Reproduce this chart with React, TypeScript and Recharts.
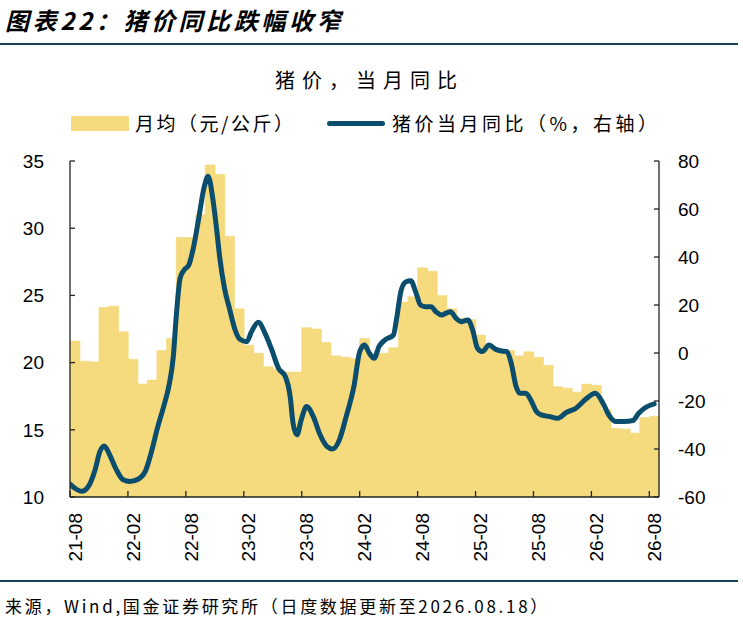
import React from 'react';
import { ComposedChart, Bar, Line, XAxis, YAxis } from 'recharts';

const MONTHS = [
  '21-08', '21-09', '21-10', '21-11', '21-12',
  '22-01', '22-02', '22-03', '22-04', '22-05', '22-06', '22-07', '22-08', '22-09', '22-10', '22-11', '22-12',
  '23-01', '23-02', '23-03', '23-04', '23-05', '23-06', '23-07', '23-08', '23-09', '23-10', '23-11', '23-12',
  '24-01', '24-02', '24-03', '24-04', '24-05', '24-06', '24-07', '24-08', '24-09', '24-10', '24-11', '24-12',
  '25-01', '25-02', '25-03', '25-04', '25-05', '25-06', '25-07', '25-08', '25-09', '25-10', '25-11', '25-12',
  '26-01', '26-02', '26-03', '26-04', '26-05', '26-06', '26-07', '26-08',
];

// 月均（元/公斤）
const MONTHLY_AVG = [
  21.6, 20.1, 20.05, 24.1, 24.2,
  22.3, 20.25, 18.4, 18.7, 20.9, 21.8, 29.3, 29.3, 31.0, 34.7, 34.0, 29.4,
  24.0, 21.3, 20.7, 19.7, 19.5, 19.3, 19.3, 22.6, 22.5, 21.5, 20.5, 20.4,
  20.3, 21.8, 20.7, 20.7, 21.1, 24.5, 24.9, 27.05, 26.8, 25.0, 24.0, 23.3,
  23.2, 22.05, 21.2, 20.8, 20.9, 20.5, 20.8, 20.4, 19.8, 18.2, 18.1, 17.8,
  18.4, 18.3, 16.5, 15.1, 15.05, 14.75, 15.9, 16.0,
];

// 猪价当月同比（%）: time in months since start of 2021-08, value
const YOY_TIME = [
  0, 0.5, 1.2, 1.9, 2.6, 3.1, 3.55, 4.1, 4.8, 5.5, 6.2, 7.1, 7.8, 8.4, 9.1, 9.8,
  10.3, 10.7, 11.0, 11.4, 11.8, 12.3, 12.8, 13.3, 13.9, 14.3, 14.8, 15.2, 15.5, 16.0,
  16.55, 17.1, 17.6, 18.3, 18.8, 19.5, 20.2, 20.9, 21.6, 22.3, 22.8, 23.1, 23.5, 23.95,
  24.5, 25.2, 25.9, 26.6, 27.2, 27.9, 28.6, 29.4, 30.0, 30.5, 31.0, 31.5, 32.0, 32.6,
  33.5, 33.8, 34.3, 34.8, 35.3, 35.8, 36.3, 36.8, 37.4, 37.9, 38.5, 38.9, 39.4, 40.0,
  40.5, 41.2, 41.7, 42.2, 42.7, 43.4, 44.1, 44.7, 45.2, 45.7, 46.2, 46.6, 47.2, 47.8,
  48.3, 48.8, 49.7, 50.5, 51.4, 52.4, 53.4, 54.4, 55.2, 55.8, 56.5, 57.4, 58.3, 58.9,
  59.6, 60.5,
];
const YOY_VALUE = [
  -54.6, -56.3, -57.6, -55.6, -48.6, -41.0, -38.7, -42.4, -48.6, -52.8, -53.5, -52.5, -49.3, -41.7, -30.6, -20.9,
  -12.6, -1.5, 15.1, 31.1, 34.5, 36.6, 44.2, 55.3, 69.2, 73.6, 64.0, 51.0, 40.0, 27.0,
  18.0, 9.6, 5.7, 4.7, 8.9, 12.8, 8.2, 1.3, -6.4, -9.8, -18.1, -29.2, -34.1, -27.8,
  -22.3, -26.5, -34.1, -38.9, -40.0, -36.2, -26.5, -14.0, 0.5, 3.3, -0.1, -2.2, 2.7, 5.4,
  7.5, 13.7, 26.2, 29.7, 30.1, 25.5, 20.0, 19.3, 19.3, 17.2, 15.8, 16.5, 17.2, 14.4,
  13.0, 13.7, 9.6, 2.0, 0.6, 3.3, 1.5, 0.8, 0.6, -4.3, -14.0, -16.8, -16.8, -20.2,
  -24.4, -25.8, -26.5, -27.2, -24.8, -23.0, -19.3, -16.8, -20.9, -25.8, -28.5, -28.5, -28.1, -25.1,
  -22.7, -21.2,
];

const LEFT_TICKS = [10, 15, 20, 25, 30, 35];
const RIGHT_TICKS = [-60, -40, -20, 0, 20, 40, 60, 80];
const X_TICK_INDEX = [0, 6, 12, 18, 24, 30, 36, 42, 48, 54, 60];

const TITLE = '图表22：猪价同比跌幅收窄';
const CHART_TITLE = '猪价，当月同比';
const LEGEND_BAR = '月均（元/公斤）';
const LEGEND_LINE = '猪价当月同比（%，右轴）';
const SOURCE = '来源，Wind,国金证券研究所（日度数据更新至2026.08.18）';

const BAR_COLOR = '#F5DA7E';
const LINE_COLOR = '#0B4D6C';
const RULE_COLOR = '#1C3F60';
const AXIS_COLOR = '#222';
const NUM_FONT = '"Liberation Sans", Arial, sans-serif';
const CJK_FONT = '"Noto Sans CJK SC", "Noto Sans", sans-serif';

const barRows = MONTHS.map((m, i) => ({ month: m, price: MONTHLY_AVG[i] }));
const lineRows = YOY_TIME.map((t, i) => ({ t, yoy: YOY_VALUE[i] }));

const XTick = (props: any) => {
  const { x, y, payload } = props;
  const label = MONTHS[payload.value] ?? '';
  return (
    <g transform={`translate(${x + 5},${y})`}>
      <text
        transform="rotate(-90)"
        textAnchor="end"
        dy="0.35em"
        fontSize={19}
        fontFamily={NUM_FONT}
        fill="#000"
      >
        {label}
      </text>
    </g>
  );
};

export default function App() {
  return (
    <div
      style={{
        position: 'absolute',
        left: 0,
        top: 0,
        width: 743,
        height: 618,
        background: '#fff',
        overflow: 'hidden',
      }}
    >
      <div
        style={{
          position: 'absolute',
          left: 5,
          top: 7,
          fontFamily: CJK_FONT,
          fontWeight: 'bold',
          fontStyle: 'italic',
          fontSize: 24,
          lineHeight: '26px',
          letterSpacing: 3.6,
          color: '#000',
          whiteSpace: 'nowrap',
        }}
      >
        {TITLE}
      </div>
      <div
        style={{ position: 'absolute', left: 0, top: 43, width: 738, height: 1.5, background: RULE_COLOR }}
      />
      <div
        style={{
          position: 'absolute',
          left: 275,
          top: 69,
          fontFamily: CJK_FONT,
          fontSize: 20,
          lineHeight: '22px',
          letterSpacing: 7,
          color: '#000',
          whiteSpace: 'nowrap',
        }}
      >
        {CHART_TITLE}
      </div>
      <div
        style={{ position: 'absolute', left: 71, top: 116, width: 58, height: 15, background: BAR_COLOR, borderRadius: 1 }}
      />
      <div
        style={{
          position: 'absolute',
          left: 135,
          top: 112,
          fontFamily: CJK_FONT,
          fontSize: 19,
          lineHeight: '22px',
          letterSpacing: 2.5,
          color: '#000',
          whiteSpace: 'nowrap',
        }}
      >
        {LEGEND_BAR}
      </div>
      <div
        style={{
          position: 'absolute',
          left: 327,
          top: 120.5,
          width: 58,
          height: 5,
          background: LINE_COLOR,
          borderRadius: 2.5,
        }}
      />
      <div
        style={{
          position: 'absolute',
          left: 392,
          top: 112,
          fontFamily: CJK_FONT,
          fontSize: 19,
          lineHeight: '22px',
          letterSpacing: 3.5,
          color: '#000',
          whiteSpace: 'nowrap',
        }}
      >
        {LEGEND_LINE}
      </div>

      <div style={{ position: 'absolute', left: 0, top: 0 }}>
        <ComposedChart
          width={743}
          height={618}
          data={barRows}
          margin={{ top: 161, right: 0, bottom: 51, left: 0 }}
          barCategoryGap={0}
          barGap={0}
        >
          <XAxis xAxisId="cat" dataKey="month" type="category" hide height={0} />
          <XAxis
            xAxisId="num"
            dataKey="t"
            type="number"
            domain={[0, 61]}
            allowDataOverflow
            ticks={X_TICK_INDEX}
            interval={0}
            height={70}
            tickSize={-6}
            tickMargin={22}
            axisLine={{ stroke: AXIS_COLOR, strokeWidth: 1.3 }}
            tickLine={{ stroke: AXIS_COLOR, strokeWidth: 1.3 }}
            tick={<XTick />}
          />
          <YAxis
            yAxisId="left"
            orientation="left"
            domain={[10, 35]}
            ticks={LEFT_TICKS}
            interval={0}
            allowDataOverflow
            width={70}
            tickSize={-5}
            tickMargin={31}
            axisLine={{ stroke: AXIS_COLOR, strokeWidth: 1.3 }}
            tickLine={{ stroke: AXIS_COLOR, strokeWidth: 1.3 }}
            tick={{ fontSize: 19, fill: '#000', fontFamily: NUM_FONT }}
          />
          <YAxis
            yAxisId="right"
            orientation="right"
            domain={[-60, 80]}
            ticks={RIGHT_TICKS}
            interval={0}
            allowDataOverflow
            width={84}
            tickSize={-5}
            tickMargin={24}
            axisLine={{ stroke: AXIS_COLOR, strokeWidth: 1.3 }}
            tickLine={{ stroke: AXIS_COLOR, strokeWidth: 1.3 }}
            tick={{ fontSize: 19, fill: '#000', fontFamily: NUM_FONT }}
          />
          <Bar
            xAxisId="cat"
            yAxisId="left"
            dataKey="price"
            fill={BAR_COLOR}
            stroke={BAR_COLOR}
            strokeWidth={0.6}
            isAnimationActive={false}
          />
          <Line
            xAxisId="num"
            yAxisId="right"
            data={lineRows}
            dataKey="yoy"
            type="monotone"
            stroke={LINE_COLOR}
            strokeWidth={5}
            strokeLinecap="round"
            strokeLinejoin="round"
            dot={false}
            activeDot={false}
            isAnimationActive={false}
          />
        </ComposedChart>
      </div>

      <div
        style={{ position: 'absolute', left: 0, top: 580, width: 738, height: 1.5, background: RULE_COLOR }}
      />
      <div
        style={{
          position: 'absolute',
          left: 5,
          top: 597,
          fontFamily: CJK_FONT,
          fontSize: 17,
          lineHeight: '18px',
          letterSpacing: 2.7,
          color: '#000',
          whiteSpace: 'nowrap',
        }}
      >
        {SOURCE}
      </div>
    </div>
  );
}
